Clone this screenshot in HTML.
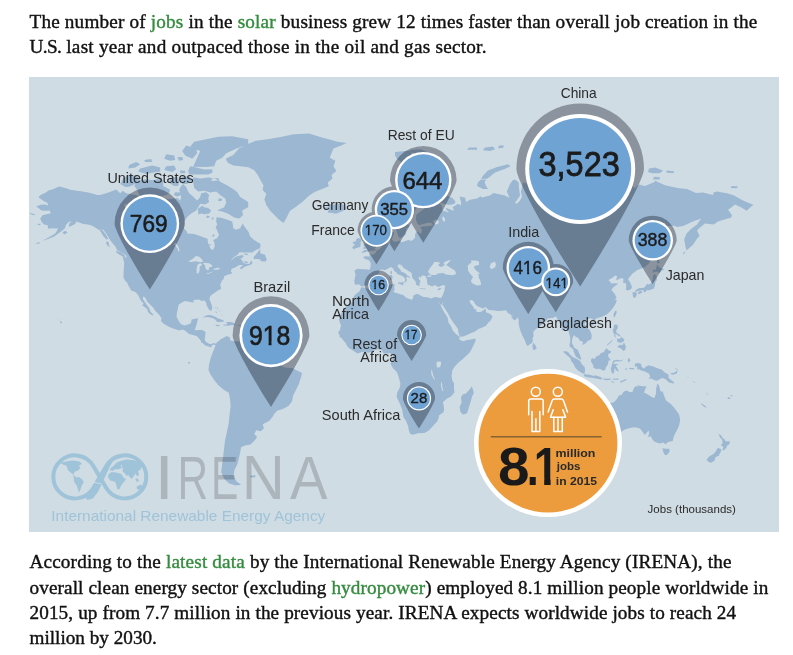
<!DOCTYPE html>
<html lang="en">
<head>
<meta charset="utf-8">
<title>Solar jobs</title>
<style>
html,body{margin:0;padding:0;background:#fff;}
body{width:793px;height:655px;overflow:hidden;position:relative;font-family:"Liberation Serif",serif;color:#111;}
.ln{position:absolute;left:29.5px;white-space:nowrap;font-size:19.2px;line-height:25px;height:25px;-webkit-text-stroke:0.4px currentColor;}
.ln a{color:#348c3e;text-decoration:none;}
#map{position:absolute;left:29px;top:77px;width:750px;height:455px;display:block;}
</style>
</head>
<body>
<div class="ln" id="t1" style="top:9.1px;letter-spacing:0.177px">The number of <a>jobs</a> in the <a>solar</a> business grew 12 times faster than overall job creation in the</div>
<div class="ln" id="t2" style="top:33.8px;letter-spacing:0.253px"><span style="letter-spacing:-0.6px">U.S.</span> last year and outpaced those in the oil and gas sector.</div>
<svg id="map" viewBox="29 77 750 455" font-family="Liberation Sans, sans-serif">
<rect x="29" y="77" width="750" height="455" fill="#d0dce3"/>
<path id="land" fill="#9bb7d1" d="M188.0,361.9L189.8,361.9L189.8,363.6L188.0,363.6ZM216.5,342.7L221.2,338.9L226.9,336.1L230.7,338.0L228.0,339.4L229.6,337.6L230.4,340.4L237.0,341.4L245.0,341.2L249.0,341.0L251.0,343.4L254.0,345.9L259.0,350.1L265.0,350.7L269.4,352.9L272.4,358.5L273.0,362.5L277.0,364.1L285.0,367.5L293.0,368.3L296.0,369.9L302.0,372.9L301.6,374.9L300.6,378.6L298.8,384.3L295.9,390.0L293.1,395.7L292.1,401.3L288.4,406.1L282.7,408.9L277.0,410.8L274.2,414.6L275.1,411.3L273.2,416.1L269.4,420.8L262.8,424.2L263.8,428.4L260.9,431.2L256.2,430.3L254.3,434.0L257.1,436.9L255.3,439.7L250.5,444.4L244.9,445.4L241.1,447.3L240.1,453.0L238.8,458.6L237.3,464.3L234.4,470.0L233.5,475.7L236.3,481.3L241.1,484.7L235.4,485.5L228.8,483.2L224.0,478.5L221.2,471.9L222.2,464.3L223.1,456.7L224.0,449.2L225.0,440.7L226.9,432.2L228.8,422.7L229.7,413.2L230.7,405.7L230.7,407.0L230.1,399.4L228.8,392.8L224.0,390.0L218.4,385.3L214.6,380.5L210.8,374.9L208.5,370.1L208.9,365.4L210.8,357.8L213.6,350.3L215.5,345.5ZM250.1,475.7L255.3,475.3L255.4,477.2L250.5,477.5ZM225.7,158.8L233.2,155.0L238.9,148.4L246.5,144.6L255.9,140.8L269.2,138.9L280.5,137.0L293.8,134.2L308.9,133.6L320.2,137.0L327.8,138.9L337.3,141.8L346.7,143.1L341.1,145.5L333.5,148.4L331.6,153.1L329.7,157.8L335.4,160.7L333.5,166.3L336.3,171.1L331.6,174.9L332.5,178.6L327.8,182.4L328.8,186.2L322.1,189.0L314.6,191.9L308.9,195.7L303.2,201.3L295.7,207.0L290.0,210.8L286.2,218.4L283.4,223.1L278.6,219.3L274.9,215.5L270.1,210.8L266.3,205.1L264.4,199.4L266.3,193.8L262.6,190.0L263.5,185.3L260.7,180.5L257.8,174.9L254.0,170.1L248.4,167.3L240.8,166.3L233.2,165.4L227.6,162.6ZM361.2,287.4L362.4,287.2L367.0,288.6L368.6,289.0L371.8,287.7L376.0,285.8L379.0,285.2L383.2,285.2L388.6,284.9L392.6,284.0L395.0,284.5L394.2,286.1L394.2,287.4L394.6,289.9L393.2,291.7L395.0,292.4L399.4,294.0L403.2,295.1L406.2,297.7L411.4,299.7L413.2,298.2L413.2,295.8L416.4,294.0L418.2,294.2L421.0,295.8L423.4,296.9L427.4,297.3L431.0,298.4L432.8,297.7L435.0,297.1L437.6,297.5L438.0,300.4L438.8,302.6L440.6,305.2L441.2,306.5L443.6,311.2L444.8,313.3L447.6,317.5L448.4,322.5L450.8,325.8L453.0,330.8L456.0,334.0L458.8,336.1L459.6,337.1L459.2,338.9L458.4,339.1L463.0,341.3L467.0,340.1L471.0,339.5L475.6,338.5L475.4,341.3L473.0,346.2L470.0,352.2L463.6,358.2L458.0,363.0L455.0,366.2L452.4,370.2L451.6,375.8L452.2,380.2L454.0,383.3L454.0,388.3L454.4,392.4L451.0,396.5L447.0,398.6L442.8,402.3L443.6,404.8L444.0,409.0L443.6,412.2L438.8,415.4L438.8,417.5L437.2,421.4L435.0,423.8L428.8,430.6L424.4,432.9L418.0,433.3L413.0,434.7L410.0,433.8L409.8,432.7L408.8,430.6L408.2,426.2L406.0,421.0L403.4,416.7L402.0,409.0L399.4,402.7L396.6,397.1L397.2,392.8L399.8,387.5L400.4,383.3L399.4,379.8L397.8,374.2L396.6,371.8L393.0,368.2L390.4,363.4L391.8,361.4L392.6,358.4L392.8,356.2L392.4,354.2L390.0,353.2L385.0,353.6L383.4,353.2L381.8,349.8L379.8,349.4L377.8,349.6L375.4,350.0L372.6,351.2L368.8,352.8L365.0,351.8L361.0,352.2L357.6,353.4L354.4,351.6L351.4,349.6L349.0,348.2L346.6,345.2L345.6,343.1L343.0,340.1L341.8,338.3L339.6,337.1L339.6,335.0L338.0,332.6L340.0,329.9L341.0,325.6L340.0,322.9L339.0,319.6L341.0,313.9L344.0,308.8L347.2,304.9L352.6,301.7L353.8,299.5L353.4,297.1L354.6,295.3L357.8,292.4L359.4,291.5ZM471.6,386.3L473.0,389.4L473.8,393.0L472.0,396.5L471.0,400.6L469.0,406.9L467.4,412.2L466.0,413.7L463.0,414.5L460.6,412.2L459.6,406.9L461.6,402.7L461.0,397.5L462.6,394.5L466.0,393.4L468.6,390.4L470.6,388.3ZM362.2,286.8L360.4,285.8L359.0,284.2L355.0,284.7L354.2,280.8L355.6,275.1L354.4,270.8L356.2,269.6L357.6,268.8L361.6,269.3L365.4,269.3L369.0,269.8L370.0,269.3L370.6,266.4L370.8,264.2L370.6,262.7L368.6,260.1L366.8,259.4L363.6,258.1L363.4,257.1L365.2,256.3L369.0,256.6L369.8,256.3L369.2,253.7L370.4,253.7L370.8,254.5L373.0,254.8L375.2,253.2L376.8,250.3L378.8,249.7L381.0,247.6L382.4,244.8L385.0,243.7L387.0,243.7L389.2,243.2L390.4,242.3L389.6,239.5L389.2,237.8L389.2,235.0L390.2,233.2L394.2,231.5L393.6,235.0L393.6,235.8L392.4,237.8L391.8,239.8L393.4,240.9L394.8,242.1L397.2,241.5L399.8,240.4L401.6,242.3L404.2,241.5L409.0,239.8L410.4,240.9L413.0,240.1L415.2,237.3L415.0,235.0L416.0,232.4L418.2,231.2L419.6,233.5L421.2,233.5L422.0,229.4L420.0,227.6L422.6,226.4L429.0,226.1L433.4,224.9L430.4,222.5L427.0,223.1L423.0,224.0L419.0,225.2L417.4,223.4L416.0,220.0L416.2,215.0L420.4,211.4L423.8,208.8L421.4,206.2L417.4,206.8L413.6,212.7L407.8,217.2L407.4,222.5L409.2,226.7L406.0,228.8L405.8,234.4L404.2,235.8L400.6,238.1L399.0,237.5L398.4,236.4L396.8,231.5L395.4,227.6L394.4,224.9L393.0,227.6L389.0,230.3L387.0,230.6L384.4,227.6L383.6,223.4L383.0,221.6L383.2,217.8L385.4,216.9L388.4,215.0L392.0,213.0L394.4,210.4L396.0,208.8L398.6,203.8L401.8,201.1L402.0,197.9L406.0,197.2L411.0,192.6L417.0,190.8L420.4,189.0L424.6,187.1L429.0,188.2L435.2,190.1L433.0,192.6L440.0,194.1L444.6,194.4L452.4,197.9L455.6,201.8L454.2,204.1L449.0,205.1L441.0,203.1L437.8,201.8L441.0,204.5L442.6,208.8L442.6,210.4L449.0,212.4L446.0,209.1L446.6,208.1L452.6,210.4L454.0,210.4L452.6,207.2L458.0,203.8L461.0,205.5L461.0,202.1L459.6,196.5L465.0,197.6L466.0,202.1L470.0,199.7L477.0,198.6L480.6,196.2L482.0,197.6L490.0,195.5L493.6,193.0L505.0,195.5L509.6,197.9L506.8,191.5L510.0,184.1L512.6,180.3L515.0,179.5L518.6,182.2L519.0,187.9L520.0,195.8L515.0,202.8L517.0,203.8L520.0,200.4L522.0,196.9L521.0,191.5L523.0,182.2L529.0,184.5L534.0,182.6L539.0,189.7L534.0,178.4L545.0,174.4L551.0,170.4L563.0,168.0L575.0,164.6L581.6,161.2L587.0,164.6L598.0,166.3L593.0,176.4L586.0,178.4L599.0,176.4L609.0,178.0L613.0,180.3L623.0,177.6L631.8,180.7L631.0,185.6L635.0,187.9L639.0,184.5L645.0,186.0L654.6,181.9L655.0,180.7L665.0,185.3L673.0,187.1L679.0,188.2L687.0,189.0L696.0,193.0L703.0,192.6L713.0,195.1L713.6,192.6L717.0,191.5L727.0,193.3L734.0,195.5L743.0,200.4L753.6,205.1L751.0,206.8L746.6,210.8L741.0,207.2L735.0,204.5L731.0,207.8L728.0,209.8L732.0,215.3L731.2,217.5L718.0,221.6L713.6,224.6L705.0,223.4L700.0,227.6L697.0,230.6L699.6,235.8L696.6,239.3L693.0,244.8L686.4,250.5L685.4,246.2L684.2,239.3L686.6,233.5L691.0,229.1L697.0,224.6L701.0,218.4L693.0,221.6L683.0,226.1L677.0,227.0L674.6,225.8L659.4,226.4L655.0,229.1L649.4,235.0L644.0,240.1L654.0,243.5L654.4,244.3L654.6,248.9L653.6,255.5L649.0,263.2L645.0,266.9L636.8,270.3L634.4,272.2L632.6,273.4L629.0,277.7L628.0,279.6L630.2,282.4L632.0,287.0L631.2,289.0L628.0,290.4L625.8,289.7L626.2,287.0L626.2,283.5L623.0,282.4L623.6,278.9L621.6,277.9L616.2,280.3L617.0,276.1L615.0,275.6L612.2,277.9L608.4,280.1L610.8,282.4L611.0,283.5L615.8,283.3L618.2,283.8L613.6,287.0L611.4,289.7L614.6,293.8L616.6,297.7L615.0,299.7L617.0,300.6L615.0,304.7L612.2,309.0L609.2,312.2L606.4,314.8L601.4,316.9L600.0,317.3L596.0,318.6L593.6,321.1L592.2,318.6L589.0,318.6L586.6,320.0L584.4,323.8L586.2,326.9L588.4,328.9L589.6,329.7L591.6,334.4L591.6,337.7L591.0,339.5L587.2,341.3L586.0,343.1L582.4,345.0L583.0,342.1L582.0,341.3L580.0,340.9L579.0,339.1L578.0,337.7L575.6,336.7L574.0,335.0L573.0,337.1L572.0,340.1L572.0,343.6L573.4,345.4L574.2,347.8L575.6,348.4L577.6,349.8L579.8,354.6L581.0,358.2L581.4,359.4L579.8,359.6L577.4,357.8L575.6,356.2L573.6,351.4L573.2,349.2L569.6,346.4L569.6,344.2L570.2,342.1L570.2,337.3L569.2,334.0L568.6,331.6L568.2,328.9L565.6,328.9L563.6,330.3L561.4,329.9L562.0,326.9L558.8,321.5L557.0,318.8L556.6,316.9L555.0,316.5L553.0,317.9L551.0,318.1L549.4,318.3L547.4,318.6L546.4,321.1L544.6,322.1L539.6,326.4L537.6,328.1L535.4,329.5L533.2,332.0L533.6,335.9L532.6,338.3L532.8,341.5L531.2,343.6L529.4,344.6L528.0,346.0L526.8,345.2L525.4,342.1L524.6,339.7L522.6,336.3L520.6,331.2L519.6,327.9L518.6,323.8L518.8,320.6L518.4,319.2L518.0,316.9L517.4,317.9L515.0,320.2L513.8,319.8L512.2,318.3L511.0,317.1L513.6,315.8L511.8,315.8L510.0,313.9L508.0,313.3L507.0,311.6L506.0,310.3L502.2,310.7L497.6,311.0L493.0,310.3L488.6,309.9L487.2,308.4L485.6,307.1L482.8,308.4L477.0,306.0L474.8,303.6L473.4,301.0L471.4,299.9L470.0,300.4L469.4,301.3L470.4,303.0L472.6,306.0L473.6,307.3L474.8,309.9L475.6,308.4L476.4,310.3L476.2,311.4L477.4,312.0L480.0,312.0L481.8,311.4L483.6,309.9L485.0,309.0L485.8,308.2L485.8,311.0L486.4,312.4L490.2,314.1L492.6,316.5L490.6,320.6L488.4,322.5L486.0,325.8L481.2,327.9L478.8,328.7L475.0,331.6L471.2,333.0L467.0,335.0L463.0,336.5L460.0,336.7L459.4,335.5L458.4,332.4L458.0,329.1L457.4,328.1L454.2,323.8L450.6,318.6L447.8,313.1L445.2,309.0L442.4,304.7L443.0,301.5L442.0,303.6L441.4,305.4L439.4,303.0L438.0,300.4L437.6,297.5L440.6,298.0L441.8,297.1L442.6,295.8L443.0,294.2L444.0,291.7L444.6,290.6L444.6,288.1L445.4,285.6L443.0,285.2L442.2,285.2L438.6,287.0L434.4,284.9L432.2,286.5L429.6,285.2L427.8,284.7L427.0,281.5L426.8,278.9L425.8,277.5L426.4,276.8L425.2,276.3L424.8,275.8L421.8,275.6L420.8,277.7L418.8,276.3L418.8,278.9L420.0,280.3L420.4,282.4L421.0,283.1L419.0,282.6L419.6,283.8L419.4,286.1L418.0,286.1L417.2,284.7L416.4,285.2L415.6,283.1L416.4,281.9L415.2,281.5L414.4,280.1L412.8,278.6L412.0,276.5L411.8,274.6L411.8,272.9L409.2,271.5L405.8,269.3L403.4,267.9L401.8,264.9L400.6,265.9L400.6,264.2L397.6,264.7L398.0,265.9L397.6,267.1L400.0,269.1L401.4,271.7L405.4,273.2L406.8,275.1L409.0,276.3L410.0,277.5L409.8,278.2L407.4,276.5L406.0,278.4L407.2,279.8L406.2,281.5L405.2,282.6L404.2,282.2L405.4,280.3L404.4,277.7L402.6,276.1L401.4,275.8L400.2,274.9L398.2,274.4L397.4,273.7L396.6,272.7L394.0,270.8L393.6,269.3L392.6,267.9L390.8,267.1L390.0,267.4L387.6,268.8L384.8,270.3L383.8,269.8L382.2,269.8L380.4,269.6L379.0,271.3L379.6,272.2L377.4,274.4L375.4,275.1L374.8,276.1L372.4,278.9L373.4,280.8L372.0,281.7L371.0,283.3L368.6,285.4L368.0,285.2L364.2,285.4ZM361.6,252.7L364.0,250.3L367.0,249.7L367.6,248.9L365.0,248.7L362.6,248.4L364.8,246.2L363.6,245.4L364.0,243.7L367.0,243.7L367.2,241.8L365.8,240.7L366.0,239.5L363.2,240.4L363.6,237.8L361.4,238.4L361.0,235.0L360.2,232.4L363.0,228.8L367.0,228.8L364.6,232.1L369.0,231.5L368.8,233.2L367.6,235.0L366.6,236.4L368.6,236.7L370.2,239.3L372.2,241.2L373.2,243.2L373.6,245.1L375.6,245.1L376.4,246.2L375.4,248.1L374.2,248.9L375.8,249.2L375.6,250.0L374.8,250.5L372.8,250.8L370.8,250.8L368.2,251.6L366.2,251.4L365.8,252.4L364.8,251.9L362.6,253.0ZM358.2,238.1L360.8,238.7L361.6,240.4L360.4,242.1L360.8,244.0L360.2,247.0L356.4,248.1L353.4,249.2L352.2,247.3L353.6,245.9L355.0,244.3L352.8,243.5L353.0,242.1L356.0,241.2L356.0,240.4L356.4,238.7ZM328.0,203.8L333.0,204.8L341.0,203.8L343.4,204.5L345.8,208.8L343.0,211.1L336.0,213.7L331.0,212.7L327.6,212.7L329.0,209.5L325.0,209.5L324.4,207.2L329.0,207.5L326.0,205.1ZM404.2,281.9L403.2,283.5L403.2,285.4L401.0,284.5L398.0,283.3L398.4,282.2L401.0,282.4ZM391.6,274.9L392.6,276.5L392.2,279.6L390.6,280.3L389.8,279.4L389.4,276.3L389.6,275.3ZM391.8,270.5L392.0,272.9L391.4,274.4L390.4,273.4L390.4,271.5ZM420.2,287.9L422.0,288.6L425.6,288.6L425.4,289.3L422.6,289.3L420.0,288.8ZM437.6,289.0L439.0,288.3L442.2,287.7L440.8,288.8L439.0,290.2L437.8,289.9ZM533.0,342.5L535.4,345.2L536.8,348.2L534.2,350.2L533.0,349.6L532.4,346.2ZM594.4,321.5L595.0,322.5L593.0,325.2L591.0,325.4L590.2,323.3L592.0,321.7ZM616.2,310.5L616.8,312.2L614.6,317.5L613.4,316.0L613.8,313.3L615.0,311.2ZM658.4,240.9L659.4,244.8L660.0,250.3L661.4,254.8L658.0,258.1L660.0,263.2L657.0,263.2L657.0,259.4L657.0,255.5L657.2,250.3L656.6,246.2L657.0,243.5ZM657.0,264.4L659.6,267.4L664.6,269.6L661.6,270.5L659.4,272.9L656.4,271.5L653.6,272.2L653.4,274.1L652.6,271.0L653.8,269.6L655.6,269.8L656.4,267.1ZM655.0,274.1L656.6,276.5L657.0,280.1L655.4,281.7L655.0,284.7L654.4,287.0L653.8,288.8L652.6,289.3L652.4,288.6L650.6,289.9L648.6,290.2L647.0,289.9L646.6,290.8L644.6,292.6L643.2,291.1L643.4,289.9L640.0,290.4L637.0,291.5L634.8,291.5L636.0,289.7L639.4,288.1L643.0,287.9L645.0,287.0L646.4,284.7L647.6,283.5L648.0,284.7L650.6,283.5L652.0,281.2L653.0,278.2L652.8,276.3L653.6,274.9ZM634.8,291.7L636.4,292.6L637.0,294.2L635.4,297.5L633.4,297.7L632.6,294.4L632.6,292.6ZM641.0,290.8L642.4,292.0L641.4,293.1L639.0,294.2L637.6,292.9L639.0,291.5ZM614.6,324.6L617.4,324.8L618.0,327.9L616.2,330.3L616.6,333.0L619.4,334.4L621.0,336.9L619.0,336.1L616.6,334.4L614.2,334.4L613.4,332.4L612.6,329.9L613.6,328.9L614.0,325.8ZM624.0,342.5L625.8,346.2L625.4,349.6L623.6,351.0L621.0,348.4L617.2,347.0L619.8,344.8L622.4,345.2ZM621.6,337.1L624.4,339.7L623.4,341.7L619.6,343.1L617.0,341.1L617.0,338.5L619.4,339.1L620.6,338.1ZM612.6,339.1L611.4,342.1L607.4,345.4L607.0,344.8L610.6,341.5ZM613.8,335.0L615.4,335.2L615.8,337.5L614.8,337.1ZM606.6,348.2L608.4,350.2L611.4,351.6L610.0,353.6L608.4,353.8L608.0,356.2L610.8,360.2L608.6,360.6L608.0,364.2L606.0,367.2L605.0,370.2L602.4,370.4L600.0,368.8L596.6,369.0L593.6,368.0L593.0,364.8L591.0,361.6L591.2,359.0L592.2,358.2L595.0,359.0L596.0,356.6L599.0,355.6L601.0,353.0L603.8,352.2L605.2,349.8ZM563.6,351.0L568.0,351.8L569.6,354.2L573.0,357.2L576.6,358.8L580.4,361.2L581.8,364.2L584.6,367.0L585.0,369.2L584.6,374.0L582.2,373.2L577.6,370.2L575.0,367.2L573.8,364.2L571.4,361.2L570.4,358.2L566.0,354.6L563.6,352.2ZM585.0,374.0L587.0,374.4L589.6,374.8L594.0,376.0L595.0,375.2L598.4,376.2L601.6,377.6L602.0,379.6L597.0,378.8L592.0,377.8L589.0,377.6L586.0,377.0L583.6,375.8ZM602.2,378.4L604.4,378.6L607.0,378.8L610.6,378.6L611.0,379.6L607.0,380.2L604.2,379.8ZM612.8,378.8L618.6,378.6L618.6,379.8L613.0,379.8ZM626.0,379.0L626.8,380.0L620.2,382.9L620.4,381.3ZM611.2,381.0L614.6,382.1L613.6,382.7L611.0,381.7ZM623.2,359.4L621.6,361.2L615.0,361.4L613.0,363.8L618.8,364.0L615.8,365.4L617.6,368.8L619.0,371.8L616.0,370.2L614.8,367.8L613.8,373.2L612.0,373.4L610.8,369.2L612.0,364.2L613.4,360.6L617.0,359.8L620.6,360.4ZM628.8,357.8L630.4,360.2L628.8,362.2L629.4,363.8L627.8,361.2L628.0,359.2ZM629.4,367.8L634.4,368.2L634.0,369.6L629.0,369.0ZM625.4,368.4L627.4,368.6L626.6,369.8L625.0,369.4ZM635.4,363.6L638.0,363.0L641.0,363.8L641.6,366.8L644.0,368.8L646.0,366.6L648.8,365.2L654.0,366.8L658.0,368.6L662.0,369.8L664.6,372.6L668.0,374.2L668.6,375.6L668.4,377.8L671.4,380.2L674.4,382.7L673.4,383.5L668.6,382.3L666.0,379.6L662.6,378.0L659.4,379.2L658.0,380.6L655.0,380.6L651.4,378.6L648.4,378.8L650.4,376.6L648.6,373.2L644.0,371.2L640.0,370.0L637.0,367.6L638.6,369.2L638.8,370.2L636.8,368.2L637.4,366.6L634.8,366.6L634.8,364.8ZM677.4,370.6L677.0,373.2L673.0,374.8L669.8,373.4L674.0,372.8ZM674.6,367.4L677.4,369.2L679.0,371.6L678.2,370.8L675.0,368.2ZM686.0,375.8L688.0,377.2L692.6,379.2L690.0,378.2ZM692.4,380.8L694.6,381.9L696.6,383.3L693.4,382.1ZM701.0,402.9L705.0,405.8L707.0,407.7L704.4,406.9L701.6,404.4ZM706.2,392.4L707.4,393.4L708.0,395.5L706.6,393.6ZM727.8,397.3L730.2,397.5L730.0,399.0L727.6,399.0ZM731.0,395.1L733.0,395.7L731.6,396.5L730.4,395.9ZM658.0,383.7L659.2,386.3L660.6,391.4L662.8,391.4L664.0,395.5L666.0,400.6L670.6,403.8L674.4,407.9L676.6,411.1L679.0,414.3L680.2,419.7L679.2,425.1L677.0,430.2L675.4,432.9L673.4,437.4L672.8,440.9L668.0,442.0L665.6,444.3L663.0,442.5L660.0,443.6L655.0,442.0L652.6,439.7L651.0,436.5L647.6,436.7L648.6,434.9L649.2,434.0L648.6,430.6L644.8,434.9L642.6,431.8L640.0,428.4L635.0,427.3L630.8,427.8L625.0,429.5L620.0,432.4L615.0,432.9L611.6,434.0L609.0,435.1L603.2,433.6L603.2,431.8L604.4,428.4L602.8,424.0L601.2,419.7L599.6,415.4L599.8,412.2L600.4,407.9L601.4,406.5L605.0,404.8L609.4,403.3L614.0,402.3L617.4,398.6L618.8,395.5L621.4,394.9L624.0,391.4L626.6,390.4L629.6,392.0L632.2,392.2L634.4,387.3L636.0,386.3L638.4,386.7L637.0,384.7L640.0,385.9L644.0,386.3L646.6,386.5L645.0,389.4L644.0,392.4L648.0,394.5L652.6,397.5L654.6,397.7L656.0,393.4L656.2,388.3L657.2,384.3ZM662.4,448.3L666.0,448.8L669.4,448.8L669.6,451.5L667.0,455.1L665.0,455.1L663.6,452.7ZM718.4,433.8L721.2,435.6L722.6,438.1L724.8,439.7L725.4,441.1L728.0,441.6L729.6,441.1L729.6,443.2L728.6,445.0L727.0,445.5L726.2,447.9L723.6,450.5L722.4,449.8L723.4,447.4L722.6,446.2L720.6,445.0L722.2,443.9L722.6,441.6L721.8,439.2L720.0,437.4L719.0,435.1ZM718.4,447.9L720.8,449.1L721.4,450.7L719.4,453.9L719.0,455.8L715.6,457.0L714.4,460.7L711.0,462.7L708.2,461.7L706.6,459.5L709.6,456.3L713.4,453.9L715.8,451.5L717.2,448.6ZM395.0,152.0L405.0,151.1L413.0,150.2L411.0,154.2L416.0,158.7L409.0,162.1L406.0,165.9L401.0,162.1L397.0,159.1L395.0,155.6ZM411.0,149.7L421.0,149.2L427.0,152.0L420.0,154.2L413.0,152.9ZM488.0,189.0L483.0,189.0L477.0,186.0L478.0,182.2L481.0,179.5L486.0,179.5L484.6,182.2L486.0,186.0ZM481.0,178.8L484.0,174.4L488.0,170.4L497.0,167.1L508.0,164.2L510.6,166.3L504.0,169.2L495.0,172.4L490.0,176.4L487.0,178.8ZM467.0,149.7L469.0,147.4L477.0,147.4L477.0,149.7ZM483.0,150.2L485.0,147.4L493.0,146.5L495.0,149.2L490.0,151.1ZM498.0,148.3L499.0,145.5L504.0,145.5L503.0,147.9ZM569.0,156.5L563.0,153.3L565.0,150.2L572.0,150.2L577.0,154.2L574.0,156.5ZM557.0,151.5L556.0,146.5L564.0,145.5L568.0,148.8L563.0,151.1ZM573.0,160.0L575.0,156.5L582.0,155.6L584.0,159.1L578.0,160.4ZM648.0,172.0L649.0,168.4L655.0,167.5L663.0,170.4L660.0,173.2L652.0,173.2ZM666.0,172.4L667.0,170.4L674.0,171.2L673.6,173.2ZM653.0,179.5L654.0,176.8L660.0,177.2L659.6,179.5ZM730.4,187.9L732.0,186.0L738.0,186.4L737.0,188.2ZM685.4,251.1L683.6,252.4L682.4,254.8L684.8,253.0ZM29.6,213.0L35.4,214.3L33.8,215.3L30.0,214.0ZM88.2,192.6L90.2,193.0L97.2,195.1L100.2,195.1L106.2,193.3L113.2,190.8L116.2,189.4L120.2,193.3L122.8,190.8L126.2,193.3L132.2,194.4L136.2,195.1L142.2,197.6L146.2,199.3L152.2,199.7L156.2,202.8L157.2,199.3L162.2,197.6L168.2,199.3L174.2,198.6L177.2,197.9L180.2,200.4L181.2,196.9L180.2,193.3L179.2,189.7L181.2,186.0L183.2,184.1L186.2,187.1L188.2,191.5L189.2,193.3L192.2,195.8L197.2,200.4L200.2,196.9L201.2,193.3L206.2,192.3L209.2,195.1L208.2,198.6L209.2,202.1L205.2,204.5L200.2,203.8L198.2,207.2L196.2,210.4L190.8,213.7L187.2,216.9L184.2,221.6L183.8,228.2L187.2,232.1L187.2,233.5L194.2,234.1L207.6,238.7L207.8,242.1L209.2,246.2L211.2,249.5L213.2,249.7L214.8,246.2L214.2,242.1L213.0,240.1L216.8,238.4L219.0,235.0L217.2,230.6L215.6,227.6L217.2,224.6L216.2,221.6L216.4,217.2L221.2,217.8L228.2,220.0L232.2,221.6L232.8,224.6L233.2,228.2L236.2,229.7L240.2,228.2L242.6,223.4L245.2,227.6L248.6,232.1L250.2,236.4L253.2,239.3L257.2,242.1L260.2,243.5L260.6,246.2L259.2,248.9L257.2,249.2L252.2,252.4L245.2,252.4L239.2,252.2L237.6,254.8L234.2,256.8L230.6,260.6L232.4,259.4L235.6,256.8L242.2,255.0L243.8,256.1L242.2,258.1L240.2,258.6L242.2,260.6L243.2,262.7L246.2,263.7L249.2,263.9L251.2,260.6L252.6,263.2L250.2,264.9L245.2,266.6L241.2,269.3L239.8,268.1L243.2,264.9L240.2,265.1L238.2,265.6L235.2,267.4L231.8,268.8L230.8,271.3L232.2,272.9L230.8,274.1L228.2,274.6L224.2,276.3L223.6,278.9L222.0,280.5L220.2,284.7L221.2,288.8L218.2,290.2L216.2,291.7L213.2,293.8L210.2,296.0L209.4,299.3L211.2,303.6L212.2,306.9L212.0,309.5L210.6,311.0L208.6,309.0L206.6,305.2L206.2,302.6L204.2,300.4L201.6,301.0L199.2,299.5L196.2,299.7L193.2,299.9L193.8,302.6L190.2,301.9L185.2,301.0L182.6,301.9L178.6,304.7L177.8,309.0L176.8,313.3L176.6,317.1L180.0,323.3L182.2,324.8L184.2,325.4L187.2,324.8L190.2,323.8L191.2,322.1L191.6,319.6L196.2,318.6L198.2,318.6L197.2,321.7L196.6,324.8L195.8,326.9L194.6,329.9L196.2,330.3L200.2,330.1L202.2,329.9L205.6,332.0L205.2,336.1L204.6,340.1L206.2,342.1L207.6,343.1L210.2,344.2L212.6,343.4L214.2,342.9L217.2,344.6L217.6,345.2L216.6,347.2L215.6,345.2L213.2,344.4L211.6,345.8L211.2,347.6L209.2,346.8L206.6,345.8L205.2,345.4L202.6,342.9L201.2,342.5L200.6,340.3L197.6,337.1L196.8,335.9L194.6,335.5L192.2,334.8L189.2,334.0L187.6,332.8L184.6,330.3L182.2,329.5L179.2,330.6L172.4,328.3L169.0,326.7L167.2,325.8L163.6,323.8L160.8,320.8L161.6,318.6L159.4,315.0L155.6,311.2L153.0,307.3L150.4,304.9L147.2,301.5L145.2,297.5L142.8,296.6L143.0,299.3L145.2,302.6L146.6,304.7L149.2,308.0L150.2,311.2L151.6,312.9L153.4,314.6L152.4,315.6L149.2,313.3L147.8,311.6L147.2,309.0L145.2,307.5L142.2,305.2L143.8,303.6L141.6,301.5L140.2,299.3L138.8,296.4L137.8,294.4L135.4,292.0L131.2,290.4L128.4,285.6L127.2,282.8L124.8,280.3L123.4,276.8L123.6,272.9L123.8,269.3L124.2,262.7L123.4,259.4L122.8,257.1L126.6,257.6L127.2,260.1L126.2,255.5L122.6,253.0L117.2,250.3L115.2,246.2L111.6,242.1L108.6,237.8L107.2,235.0L103.4,229.7L98.6,229.7L92.8,226.1L88.2,224.6L83.2,224.0L79.2,222.5L76.2,221.6L75.2,224.0L72.6,225.2L68.6,227.0L69.6,223.1L72.2,220.9L68.2,222.2L65.8,225.2L65.0,228.2L62.2,230.6L58.2,233.5L54.2,236.4L49.2,238.4L45.2,240.1L42.6,240.7L46.2,238.7L50.2,236.4L55.2,233.5L57.2,230.6L57.8,228.2L54.6,228.5L51.2,228.2L48.0,228.8L47.8,225.2L44.2,224.6L41.8,222.2L40.2,218.4L42.6,215.3L48.2,213.7L50.2,213.7L50.6,212.4L49.6,210.4L46.2,210.8L41.4,210.4L38.2,207.8L36.0,206.8L40.2,204.8L45.2,204.5L48.2,205.5L47.2,202.4L44.8,201.8L38.6,197.6L39.8,195.5L46.2,192.3L48.4,190.5L52.2,189.4L59.2,186.4L66.2,188.2L70.2,189.7L75.2,190.5L82.2,191.5ZM125.2,187.1L120.2,184.1L123.2,178.4L128.2,174.8L136.2,175.6L140.2,180.3L133.2,184.9L129.2,186.8ZM139.2,195.1L137.2,189.7L134.2,186.0L137.2,181.1L144.2,179.2L154.2,180.3L161.2,177.6L163.2,181.1L163.2,186.0L170.2,189.7L169.2,193.3L166.2,195.1L160.2,196.5L152.2,195.8L145.2,196.9ZM174.2,186.0L168.2,182.2L172.2,177.2L177.2,176.8L179.2,181.1L178.2,186.0ZM182.2,184.1L180.8,180.3L182.2,176.4L189.2,176.4L192.2,180.3L187.2,184.1ZM177.2,196.5L173.6,195.1L175.2,192.3L180.2,192.6L181.2,195.1ZM146.2,174.0L138.2,171.6L140.2,168.4L152.2,165.5L160.2,167.5L160.2,171.6L153.2,172.4ZM172.2,172.0L164.2,170.0L166.2,166.3L174.2,165.5L176.2,169.2ZM128.2,168.4L129.2,165.1L136.2,162.1L140.2,164.2L135.2,167.5ZM189.2,174.4L188.2,170.4L190.2,166.3L194.2,167.1L204.2,169.6L212.2,169.2L212.6,172.4L208.2,174.4L198.2,174.4ZM180.2,173.2L180.2,170.4L185.2,170.8L185.2,173.2ZM193.2,166.7L196.2,160.0L198.2,155.6L200.2,151.1L190.2,146.5L194.2,141.7L218.2,136.8L232.2,136.3L248.2,139.2L248.2,144.1L236.2,148.8L226.2,153.3L222.2,157.8L216.2,160.8L214.2,166.3L206.2,167.1ZM192.2,158.7L185.2,155.6L182.2,151.1L186.2,145.5L196.2,148.8L197.2,153.3ZM170.2,160.8L164.2,158.7L166.2,154.2L174.2,155.6L175.2,160.0ZM179.2,160.8L177.2,157.3L182.2,156.9L183.2,160.0ZM145.2,162.1L144.2,160.0L151.2,159.1L152.2,162.1ZM239.2,218.4L243.0,215.3L242.2,210.4L248.2,207.2L248.2,202.1L240.2,196.9L237.2,192.3L234.2,189.7L228.2,186.0L221.2,182.2L215.2,178.4L208.2,177.6L200.2,178.4L193.2,177.2L193.2,182.2L194.2,187.9L198.2,191.5L204.2,190.8L210.2,192.6L216.2,191.5L220.2,195.1L225.2,198.6L226.2,202.8L224.2,207.2L217.2,210.4L222.2,211.4L228.2,213.7L234.2,217.5ZM211.2,181.1L212.2,178.4L218.2,178.0L219.2,180.3ZM198.2,214.6L198.2,212.1L197.8,208.8L202.2,205.8L204.2,207.2L208.2,208.1L211.2,210.4L209.2,213.4L204.2,214.3L201.2,213.4ZM205.8,217.5L207.2,215.6L210.2,216.6L208.2,218.1ZM211.6,219.4L212.2,217.2L213.8,217.8L213.2,219.4ZM218.2,201.1L218.6,198.6L222.2,198.6L221.6,201.1ZM208.2,244.6L211.2,244.3L210.6,245.4L208.6,245.4ZM212.2,236.4L213.0,234.1L214.6,235.0L213.6,236.7ZM261.0,248.7L258.6,251.1L256.2,254.3L253.8,256.8L253.6,259.1L257.2,259.1L260.6,259.6L260.6,261.2L265.8,261.4L266.8,259.1L265.6,256.8L265.2,254.8L262.2,254.0L260.2,253.0L260.2,250.8ZM243.2,253.2L247.2,253.7L248.6,255.3L245.2,254.8ZM243.8,260.9L248.2,261.9L247.2,263.2L244.2,262.2ZM115.6,250.8L121.2,252.4L125.0,255.5L125.2,257.3L122.6,256.6L119.2,254.5L116.4,252.4ZM106.2,241.5L108.8,242.3L108.8,244.8L110.2,247.6L107.6,245.7L106.2,243.5ZM65.6,230.9L67.6,232.4L64.2,234.4L62.6,232.6L64.2,231.2ZM99.6,230.0L101.2,232.6L103.6,236.4L106.2,239.3L108.2,239.3L106.6,235.8L104.6,232.9L102.2,230.0ZM37.6,223.7L40.6,223.7L40.2,225.2L37.8,224.9ZM39.2,242.1L39.8,243.2L36.6,244.0L36.2,243.2ZM23.6,246.8L25.8,247.3L22.2,247.8L20.2,247.3ZM17.2,247.8L18.6,248.7L15.6,248.4ZM202.4,317.7L205.6,315.8L208.2,315.0L211.2,315.2L215.2,316.7L218.2,318.6L223.6,320.2L223.8,321.5L220.8,321.9L216.8,321.9L216.2,320.2L213.2,318.3L209.2,317.3L206.2,317.1ZM226.2,321.9L229.2,321.9L232.2,322.3L235.4,324.0L234.8,325.4L232.2,325.0L229.8,325.4L228.2,325.8L223.6,325.4L223.6,324.6L227.2,324.8L226.4,322.5ZM215.6,324.8L219.6,325.0L219.6,326.0L217.2,326.2L215.6,325.4ZM237.8,324.8L240.8,325.0L240.6,325.8L237.8,325.8ZM215.8,310.7L216.8,312.7L217.0,313.7L215.6,312.2ZM214.8,307.5L216.6,307.7L216.6,308.2L214.8,308.0ZM217.0,307.1L218.2,308.4L217.8,309.2L217.2,308.0ZM218.6,310.1L219.8,311.6L219.8,312.0L218.6,310.5ZM221.6,313.9L222.6,315.6L221.8,315.4ZM248.6,340.5L250.2,340.5L250.2,341.9L248.6,341.9ZM60.4,321.3L62.2,322.1L61.0,323.8L60.2,322.7ZM55.8,318.3L56.8,319.0L56.0,319.0ZM58.8,319.6L60.2,320.2L59.2,320.4Z"/>
<path id="water" fill="#d0dce3" d="M431.0,275.1L435.8,274.9L438.0,273.4L443.4,272.9L445.6,274.6L452.4,275.3L456.2,273.9L455.0,270.5L452.4,269.1L448.6,266.4L446.2,264.9L443.8,265.6L441.4,266.9L440.0,266.6L438.0,264.9L440.4,262.9L437.6,261.9L434.4,261.9L432.4,265.1L430.4,267.6L428.8,270.1L428.0,271.7L429.0,273.2ZM446.2,264.9L449.6,261.4L451.0,260.1L448.0,260.4L443.6,262.4L444.2,264.7ZM427.0,276.8L431.0,276.8L431.6,275.6L429.0,275.3L427.0,276.3ZM471.0,260.6L471.4,262.4L467.6,265.6L468.0,268.1L468.0,270.5L469.6,272.9L471.4,275.3L473.0,277.0L471.6,279.4L470.8,281.5L473.0,283.8L477.0,285.4L481.0,284.9L480.8,282.4L480.0,279.6L478.6,277.7L478.8,275.8L478.2,274.1L480.0,273.4L478.4,272.2L475.6,270.1L473.6,266.9L476.0,265.6L479.0,264.9L479.0,261.4L476.0,260.6ZM495.0,261.4L491.0,263.2L489.6,266.9L491.4,269.3L495.0,267.4L496.0,264.4ZM437.0,361.6L441.0,361.8L441.0,364.2L440.0,367.2L437.0,367.6L436.4,364.2ZM431.4,369.0L432.6,372.2L433.0,375.2L435.2,379.4L434.2,379.6L431.6,375.2L431.2,372.2ZM441.0,381.3L442.2,384.3L442.4,387.3L443.4,391.0L442.4,391.0L441.2,387.3L441.0,384.3ZM435.0,224.6L433.0,220.9L436.0,219.4L439.0,221.6L438.0,224.0ZM443.4,221.6L442.0,218.4L443.0,216.2L445.0,218.4L445.0,221.6ZM398.0,229.1L399.4,226.7L401.0,227.9L399.4,229.4ZM188.2,261.4L193.2,258.6L195.8,256.1L199.2,256.8L202.2,259.4L203.0,261.9L199.2,261.9L195.2,261.2L191.2,261.9ZM200.8,263.2L202.2,264.4L199.6,266.9L199.6,270.5L198.2,273.7L196.6,272.9L196.6,269.3L197.2,265.6L198.6,263.7ZM203.8,262.7L209.2,263.2L211.8,265.1L212.2,266.9L209.6,266.9L208.6,270.1L207.4,270.3L205.2,268.1L205.2,265.6L203.2,263.7ZM205.6,274.1L213.8,271.3L214.4,270.8L212.2,272.2L208.2,274.1ZM212.6,269.8L215.2,268.3L219.4,267.6L219.6,269.3L216.2,269.8ZM178.2,251.9L177.8,248.9L173.8,244.0L175.6,242.6L178.2,246.2L179.6,250.3ZM138.2,221.6L142.2,220.0L149.2,216.9L153.2,215.9L152.2,217.8L146.2,219.1L141.2,222.2ZM126.2,208.8L124.2,204.8L132.2,202.1L137.2,204.5L133.2,207.2L130.2,208.1ZM150.2,228.5L154.2,226.7L160.2,225.8L157.2,227.3L152.2,228.8Z"/>
<g id="logo">
<path d="M93.3,465.9A21.5,21.5 0 1 0 93.3,487.9L106.3,465.9A21.5,21.5 0 1 1 106.3,487.9Z" fill="none" stroke="#9fc3d9" stroke-width="4" stroke-linejoin="round"/>
<path fill="#9fc3d9" d="M85.5,497.7L90.8,493.8L95.6,485.2L100.5,474.8L106.0,464.4L111.6,457.2L117.8,454.4L114.4,458.9L110.2,465.8L106.0,474.8L101.9,483.8L97.7,492.2L92.9,498.4L87.3,499.9Z"/>
<path d="M91.5,481.9L101.6,483.8" stroke="#d0dce3" stroke-width="0.9" fill="none"/>
<path fill="#9fc3d9" d="M60.3,463.0L65.8,461.4L72.7,460.5L79.7,461.4L81.8,463.7L79.0,465.8L80.4,467.9L77.6,470.7L74.8,471.4L73.4,474.8L72.0,473.4L70.0,472.0L67.9,470.0L66.5,465.8L63.0,464.4ZM73.2,474.4L76.2,477.6L79.0,476.9L82.5,479.7L83.8,482.5L81.8,485.2L80.4,489.4L79.0,492.9L78.0,489.4L76.6,485.2L74.1,481.8L73.9,479.0ZM109.5,470.0L111.6,467.2L114.4,465.1L117.1,462.3L120.6,461.0L122.7,463.0L120.6,465.8L122.0,467.9L118.5,469.3L115.1,469.3L113.0,470.7ZM108.1,474.8L111.6,472.0L117.1,472.7L121.3,474.1L124.1,478.3L126.1,479.0L123.4,482.5L121.3,485.2L119.2,489.4L117.1,489.1L116.4,485.2L115.1,481.8L110.2,480.4L108.1,477.6ZM120.6,461.0L126.8,459.6L133.8,460.3L139.3,462.3L142.1,465.8L140.7,469.3L137.9,471.4L139.3,474.8L137.2,476.2L135.2,473.4L133.8,476.2L131.7,479.0L129.6,476.9L128.2,474.8L126.8,476.2L124.8,473.4L122.7,471.4L122.7,468.6ZM135.2,479.0L137.7,478.3L139.0,481.3L136.8,481.8ZM136.6,486.6L140.7,484.5L142.8,486.6L140.7,489.4L137.2,489.4Z"/>
<g id="irena" fill="#000" fill-opacity="0.175"><text transform="translate(154.57,498.8) scale(1.124,1)" font-size="62">I</text><text transform="translate(177.52,498.8) scale(0.685,1)" font-size="62">R</text><text transform="translate(210.94,498.8) scale(0.661,1)" font-size="62">E</text><text transform="translate(241.71,498.8) scale(0.962,1)" font-size="62">N</text><text transform="translate(289.89,498.8) scale(0.907,1)" font-size="62">A</text></g>
<text transform="translate(51.28,520.8) scale(1.056,1)" font-size="14.6" fill="#9fc3d9">International Renewable Energy Agency</text>
</g>
<g id="pin-shadows" fill="rgb(8,12,28)" opacity="0.34">
<path d="M580.2,286.5C542.3,227.0 516.4,178.8 516.4,168.9A63.8,65.39 0 1 1 644.0,168.9C644.0,178.8 618.1,227.0 580.2,286.5Z"/>
<path d="M528.3,314.0C513.1,290.2 502.8,271.8 502.8,267.8A25.5,26.14 0 1 1 553.8,267.8C553.8,271.8 543.5,290.2 528.3,314.0Z"/>
<path d="M555.8,312.2C545.5,296.0 538.4,284.5 538.4,281.8A17.4,17.83 0 1 1 573.2,281.8C573.2,284.5 566.1,296.0 555.8,312.2Z"/>
<path d="M652.7,284.0C638.4,261.6 628.7,244.0 628.7,240.3A24,24.60 0 1 1 676.7,240.3C676.7,244.0 667.0,261.6 652.7,284.0Z"/>
<path d="M423.3,242.7C403.5,211.6 390.0,185.3 390.0,180.1A33.3,34.13 0 1 1 456.6,180.1C456.6,185.3 443.1,211.6 423.3,242.7Z"/>
<path d="M394.4,251.3C380.9,230.0 371.6,213.1 371.6,209.6A22.8,23.37 0 1 1 417.2,209.6C417.2,213.1 407.9,230.0 394.4,251.3Z"/>
<path d="M376.4,264.3C365.2,246.8 357.6,233.6 357.6,230.7A18.8,19.27 0 1 1 395.2,230.7C395.2,233.6 387.6,246.8 376.4,264.3Z"/>
<path d="M378.5,311.1C370.1,297.9 364.4,287.2 364.4,285.0A14.1,14.45 0 1 1 392.6,285.0C392.6,287.2 386.9,297.9 378.5,311.1Z"/>
<path d="M411.6,360.9C402.9,347.3 397.0,337.3 397.0,335.0A14.6,14.96 0 1 1 426.2,335.0C426.2,337.3 420.3,347.3 411.6,360.9Z"/>
<path d="M419.0,428.5C409.4,413.5 402.9,400.9 402.9,398.4A16.1,16.50 0 1 1 435.1,398.4C435.1,400.9 428.6,413.5 419.0,428.5Z"/>
<path d="M149.8,289.5C128.9,256.7 114.6,229.2 114.6,223.7A35.2,36.08 0 1 1 185.0,223.7C185.0,229.2 170.7,256.7 149.8,289.5Z"/>
<path d="M271.0,407.0C248.2,371.2 232.6,341.6 232.6,335.6A38.4,39.36 0 1 1 309.4,335.6C309.4,341.6 293.8,371.2 271.0,407.0Z"/>
</g>
<g id="pin-china">
<circle cx="580.2" cy="168.9" r="55" fill="#fff"/>
<circle cx="580.2" cy="168.9" r="51" fill="#6ea3d4"/>
<text transform="translate(538.56,176) scale(0.911,1)" font-size="35.6" fill="#1c1c1c" stroke="#1c1c1c" stroke-width="0.85">3,523</text>
</g>
<g id="pin-india">
<circle cx="528.3" cy="267.8" r="21.8" fill="#fff"/>
<circle cx="528.3" cy="267.8" r="19.5" fill="#6ea3d4"/>
<clipPath id="nofoot1"><path clip-rule="evenodd" d="M510.61,258.22H545.05V275.98H510.61ZM523.51,271.41H527.15V275.48H523.51ZM529.11,271.41H532.61V275.48H529.11Z"/></clipPath><g clip-path="url(#nofoot1)" fill="#1c1c1c" stroke="#1c1c1c" stroke-width="0.45"><text transform="translate(513.61,273.6) scale(0.902,1)" font-size="18.9">416</text></g>
</g>
<g id="pin-bangladesh">
<circle cx="555.8" cy="281.8" r="14.4" fill="#fff"/>
<circle cx="555.8" cy="281.8" r="12.3" fill="#6ea3d4"/>
<clipPath id="nofoot2"><path clip-rule="evenodd" d="M542.49,274.57H571.14V289.83H542.49ZM545.69,285.61H548.72V289.33H545.69ZM550.29,285.61H553.21V289.33H550.29ZM560.79,285.61H563.82V289.33H560.79ZM565.39,285.61H568.31V289.33H565.39Z"/></clipPath><g clip-path="url(#nofoot2)" fill="#1c1c1c" stroke="#1c1c1c" stroke-width="0.37"><text transform="translate(545.49,287.5) scale(0.881,1)" font-size="15.4">141</text></g>
</g>
<g id="pin-japan">
<circle cx="652.7" cy="240.3" r="20.3" fill="#fff"/>
<circle cx="652.7" cy="240.3" r="18.0" fill="#6ea3d4"/>
<text transform="translate(637.72,246.2) scale(1.004,1)" font-size="17.7" fill="#1c1c1c" stroke="#1c1c1c" stroke-width="0.42">388</text>
</g>
<g id="pin-eu">
<circle cx="423.3" cy="180.1" r="28.2" fill="#fff"/>
<circle cx="423.3" cy="180.1" r="25.8" fill="#6ea3d4"/>
<text transform="translate(402.38,188.7) scale(1.023,1)" font-size="23.5" fill="#1c1c1c" stroke="#1c1c1c" stroke-width="0.56">644</text>
</g>
<g id="pin-germany">
<circle cx="394.4" cy="209.6" r="19.7" fill="#fff"/>
<circle cx="394.4" cy="209.6" r="17.3" fill="#6ea3d4"/>
<text transform="translate(380.16,214.7) scale(0.968,1)" font-size="17.3" fill="#1c1c1c" stroke="#1c1c1c" stroke-width="0.42">355</text>
</g>
<g id="pin-france">
<circle cx="376.4" cy="230.7" r="16" fill="#fff"/>
<circle cx="376.4" cy="230.7" r="14.3" fill="#6ea3d4"/>
<clipPath id="nofoot3"><path clip-rule="evenodd" d="M361.71,222.73H390.02V237.42H361.71ZM364.91,233.28H367.90V236.92H364.91ZM369.43,233.28H372.32V236.92H369.43Z"/></clipPath><g clip-path="url(#nofoot3)" fill="#1c1c1c" stroke="#1c1c1c" stroke-width="0.35"><text transform="translate(364.71,235.1) scale(0.916,1)" font-size="14.6">170</text></g>
</g>
<g id="pin-nafrica">
<circle cx="378.5" cy="285" r="10.3" fill="#fff"/>
<circle cx="378.5" cy="285" r="9.2" fill="#6ea3d4"/>
<clipPath id="nofoot4"><path clip-rule="evenodd" d="M368.40,278.05H388.25V291.61H368.40ZM371.55,287.62H374.38V291.11H371.55ZM375.79,287.62H378.52V291.11H375.79Z"/></clipPath><g clip-path="url(#nofoot4)" fill="#1c1c1c" stroke="#1c1c1c" stroke-width="0.31"><text transform="translate(371.40,289.3) scale(0.957,1)" font-size="13.0">16</text></g>
</g>
<g id="pin-rafrica">
<circle cx="411.6" cy="335" r="10.3" fill="#fff"/>
<circle cx="411.6" cy="335" r="9.2" fill="#6ea3d4"/>
<clipPath id="nofoot5"><path clip-rule="evenodd" d="M401.69,328.05H420.48V341.61H401.69ZM404.76,337.62H407.43V341.11H404.76ZM408.76,337.62H411.33V341.11H408.76Z"/></clipPath><g clip-path="url(#nofoot5)" fill="#1c1c1c" stroke="#1c1c1c" stroke-width="0.31"><text transform="translate(404.69,339.3) scale(0.884,1)" font-size="13.0">17</text></g>
</g>
<g id="pin-safrica">
<circle cx="419" cy="398.4" r="12.1" fill="#fff"/>
<circle cx="419" cy="398.4" r="10.9" fill="#6ea3d4"/>
<text transform="translate(410.54,403.3) scale(0.982,1)" font-size="15.3" fill="#1c1c1c" stroke="#1c1c1c" stroke-width="0.37">28</text>
</g>
<g id="pin-us">
<circle cx="149.8" cy="223.7" r="29.4" fill="#fff"/>
<circle cx="149.8" cy="223.7" r="27" fill="#6ea3d4"/>
<text transform="translate(129.84,231.6) scale(0.942,1)" font-size="24.0" fill="#1c1c1c" stroke="#1c1c1c" stroke-width="0.58">769</text>
</g>
<g id="pin-brazil">
<circle cx="271.0" cy="335.6" r="31.6" fill="#fff"/>
<circle cx="271.0" cy="335.6" r="28.9" fill="#6ea3d4"/>
<clipPath id="nofoot6"><path clip-rule="evenodd" d="M245.94,323.62H293.28V347.08H245.94ZM263.63,341.72H268.62V346.58H263.63ZM271.46,341.72H276.26V346.58H271.46Z"/></clipPath><g clip-path="url(#nofoot6)" fill="#1c1c1c" stroke="#1c1c1c" stroke-width="0.65"><text transform="translate(248.94,344.6) scale(0.921,1)" font-size="26.9">918</text></g>
</g>
<g id="labels" font-size="14" fill="#2b2b2b">
<text transform="translate(107.49,182.6) scale(1.026,1)" font-size="14">United States</text>
<text transform="translate(253.39,291.6) scale(1.051,1)" font-size="14">Brazil</text>
<text transform="translate(387.66,140.2) scale(0.990,1)" font-size="14">Rest of EU</text>
<text transform="translate(311.81,209.7) scale(0.982,1)" font-size="14">Germany</text>
<text transform="translate(311.35,235.1) scale(0.998,1)" font-size="14">France</text>
<text transform="translate(560.70,98) scale(0.984,1)" font-size="14">China</text>
<text transform="translate(508.18,237.1) scale(1.025,1)" font-size="14">India</text>
<text transform="translate(536.83,328.0) scale(1.015,1)" font-size="14">Bangladesh</text>
<text transform="translate(665.68,280.0) scale(1.016,1)" font-size="14">Japan</text>
<text transform="translate(331.94,305.9) scale(1.097,1)" font-size="14">North</text>
<text transform="translate(332.17,319.1) scale(1.026,1)" font-size="14">Africa</text>
<text transform="translate(352.24,348.7) scale(1.013,1)" font-size="14">Rest of</text>
<text transform="translate(360.37,362.0) scale(1.029,1)" font-size="14">Africa</text>
<text transform="translate(321.84,419.5) scale(1.042,1)" font-size="14">South Africa</text>
</g>
<g id="total">
<circle cx="548" cy="443.1" r="74" fill="#fff"/>
<circle cx="548" cy="443.1" r="69.4" fill="#ec9c3c"/>
<rect x="490.8" y="436.2" width="110.9" height="1.2" fill="#6e5530"/>
<g fill="none" stroke="#fff" stroke-width="1.5" stroke-linejoin="round" stroke-linecap="round">
<circle cx="535.8" cy="391.7" r="4.5"/>
<path d="M528.7,414.7V401.2Q528.7,399 530.9,399H541Q543.2,399 543.2,401.2V414.7"/>
<path d="M532,411.6V431.6H539.8V411.6M535.9,418.7V431.6"/>
<circle cx="557.8" cy="391.7" r="4.5"/>
<path d="M548.1,412.1L552.2,400.5Q552.8,399 554.4,399H561.2Q562.8,399 563.4,400.5L567.5,412.1"/>
<path d="M553.2,409.8L550.5,417.3H565.6L562.9,409.8"/>
<path d="M553.8,417.3V431.6H562.3V417.3M558,418.7V431.6"/>
</g>
<clipPath id="one"><path d="M530,440H550.6V490H544.2V478.5H530Z"/></clipPath>
<g fill="#1a1a1a"><text transform="translate(498.00,485.2) scale(1.054,1)" font-size="53.8" font-weight="bold">8</text><text transform="translate(526.67,485.2) scale(0.803,1)" font-size="53.8" font-weight="bold">.</text><g clip-path="url(#one)"><text transform="translate(533.83,485.2) scale(0.836,1)" font-size="53.8" font-weight="bold">1</text></g></g>
<g font-size="11.4" font-weight="bold" fill="#2a2a2a">
<text transform="translate(555.48,456.8) scale(1.089,1)" font-size="11.4" font-weight="bold">million</text>
<text transform="translate(556.78,470.1) scale(1.011,1)" font-size="11.4" font-weight="bold">jobs</text>
<text transform="translate(555.75,484.5) scale(1.068,1)" font-size="11.4" font-weight="bold">in 2015</text>
</g>
</g>
<text transform="translate(647.62,512.9) scale(0.993,1)" font-size="11.6" fill="#2b2b2b">Jobs (thousands)</text>
</svg>
<div class="ln" id="b1" style="top:549.4px;letter-spacing:0.158px">According to the <a>latest data</a> by the International Renewable Energy Agency (IRENA), the</div>
<div class="ln" id="b2" style="top:575.1px;letter-spacing:0.113px">overall clean energy sector (excluding <a>hydropower</a>) employed 8.1 million people worldwide in</div>
<div class="ln" id="b3" style="top:600.4px;letter-spacing:0.11px">2015, up from 7.7 million in the previous year. IRENA expects worldwide jobs to reach 24</div>
<div class="ln" id="b4" style="top:625.2px">million by 2030.</div>
</body>
</html>
